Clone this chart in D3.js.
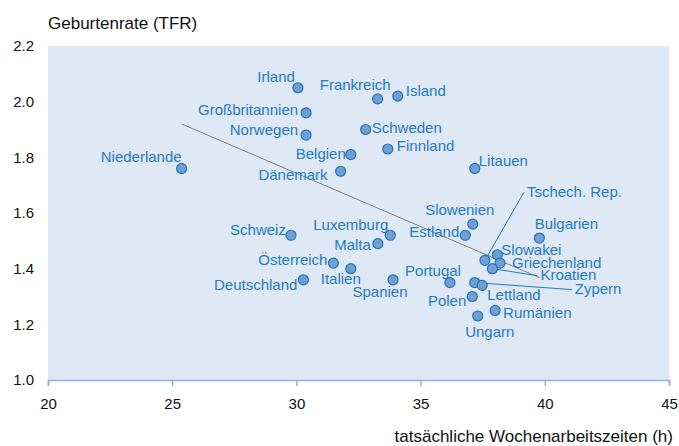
<!DOCTYPE html>
<html>
<head>
<meta charset="utf-8">
<script src="https://cdn.jsdelivr.net/npm/d3@7"></script>
<style>
  body { margin: 0; background: #fff; }
  svg { font-family: 'Liberation Sans', Arial, sans-serif; }
</style>
</head>
<body>
<div id="plot"></div>
<script>
// data
const countries = ['Irland', 'Frankreich', 'Island', 'Großbritannien', 'Norwegen', 'Schweden',
  'Finnland', 'Belgien', 'Dänemark', 'Niederlande', 'Litauen', 'Slowenien', 'Estland',
  'Bulgarien', 'Schweiz', 'Luxemburg', 'Malta', 'Österreich', 'Italien', 'Deutschland',
  'Spanien', 'Portugal', 'Slowakei', 'Tschech. Rep.', 'Griechenland', 'Kroatien', 'Zypern',
  'Lettland', 'Polen', 'Rumänien', 'Ungarn'];
const hours = [30.06, 33.27, 34.08, 30.39, 30.39, 32.79, 33.68, 32.19, 31.78, 25.38, 37.18,
  37.10, 36.80, 39.78, 29.78, 33.78, 33.28, 31.49, 32.19, 30.28, 33.89, 36.18, 38.09, 37.59,
  38.20, 37.89, 37.18, 37.48, 37.08, 38.00, 37.30];
const tfr = [2.05, 2.01, 2.02, 1.96, 1.88, 1.90, 1.83, 1.81, 1.75, 1.76, 1.76, 1.56, 1.52,
  1.51, 1.52, 1.52, 1.49, 1.42, 1.40, 1.36, 1.36, 1.35, 1.45, 1.43, 1.42, 1.40, 1.35, 1.34,
  1.30, 1.25, 1.23];
const trendX = [25.38, 39.81];
const trendY = [1.92, 1.367];
const xTicks = [20, 25, 30, 35, 40, 45];
const yTicks = [1.0, 1.2, 1.4, 1.6, 1.8, 2.0, 2.2];

// label placement: [dx, dy, anchor, leader]
const labelPos = {
  'Irland': [-3, -11, 'end'],
  'Frankreich': [13, -14, 'end'],
  'Island': [8, -5, 'start'],
  'Großbritannien': [-8, -3, 'end'],
  'Norwegen': [-8, -5, 'end'],
  'Schweden': [6, -2, 'start'],
  'Finnland': [9, -3, 'start'],
  'Belgien': [-5, -1, 'end'],
  'Dänemark': [-13, 3, 'end'],
  'Niederlande': [0, -12, 'end'],
  'Litauen': [4, -8, 'start'],
  'Slowenien': [-13, -14, 'middle'],
  'Estland': [-6, -4, 'end'],
  'Bulgarien': [27, -14, 'middle'],
  'Schweiz': [-5, -6, 'end'],
  'Luxemburg': [-2, -11, 'end'],
  'Malta': [-7, 1, 'end'],
  'Österreich': [-6, -3, 'end'],
  'Italien': [-10, 10, 'middle'],
  'Deutschland': [-6, 5, 'end'],
  'Spanien': [-13, 12, 'middle'],
  'Portugal': [11, -12, 'end'],
  'Slowakei': [4, -5, 'start'],
  'Tschech. Rep.': [42, -69, 'start', true],
  'Griechenland': [12, 0, 'start'],
  'Kroatien': [48, 6, 'start', true],
  'Zypern': [100, 6, 'start', true],
  'Lettland': [5, 9, 'start'],
  'Polen': [-6, 4, 'end'],
  'Rumänien': [8, 2, 'start'],
  'Ungarn': [12, 16, 'middle'],
};

const blue = '#1f7bc4';
const margin = { top: 46, right: 10, bottom: 66, left: 48 };
const width = 621;
const height = 334;

const svg = d3.select('#plot')
  .append('svg')
  .attr('width', 679)
  .attr('height', 446)
  .append('g')
  .attr('transform', `translate(${margin.left},${margin.top})`);

const x = d3.scaleLinear().domain([20, 45]).range([0, width]);
const y = d3.scaleLinear().domain([1.0, 2.2]).range([height, 0]);

// plot background
svg.append('rect')
  .attr('width', width)
  .attr('height', height)
  .attr('fill', '#dfe8f5');

// x axis
const xAxis = svg.append('g')
  .attr('transform', `translate(0,${height})`)
  .call(d3.axisBottom(x).tickValues(xTicks).tickSize(6).tickPadding(12).tickFormat(d3.format('d')));
xAxis.select('.domain').attr('stroke', '#8db3e2').attr('stroke-width', 1.5);
xAxis.selectAll('.tick line').attr('stroke', '#8db3e2').attr('stroke-width', 1.5);
xAxis.selectAll('text')
  .attr('fill', '#111')
  .style('font-size', '15px')
  .style('font-family', "'Liberation Sans', Arial, sans-serif");

// y axis (labels only)
const yAxis = svg.append('g')
  .call(d3.axisLeft(y).tickValues(yTicks).tickSize(0).tickPadding(14).tickFormat(d3.format('.1f')));
yAxis.select('.domain').remove();
yAxis.selectAll('text')
  .attr('fill', '#111')
  .style('font-size', '15px')
  .style('font-family', "'Liberation Sans', Arial, sans-serif");

// axis titles
svg.append('text')
  .attr('x', 0)
  .attr('y', -17)
  .attr('fill', '#111')
  .style('font-size', '17px')
  .text('Geburtenrate (TFR)');

svg.append('text')
  .attr('x', 625)
  .attr('y', 396)
  .attr('text-anchor', 'end')
  .attr('fill', '#111')
  .style('font-size', '17px')
  .text('tatsächliche Wochenarbeitszeiten (h)');

// trend line
svg.append('line')
  .attr('x1', x(trendX[0]))
  .attr('y1', y(trendY[0]))
  .attr('x2', x(trendX[1]))
  .attr('y2', y(trendY[1]))
  .attr('stroke', '#7f7f7f')
  .attr('stroke-width', 1);

const points = countries.map((c, i) => ({ name: c, h: hours[i], t: tfr[i] }));

// leader lines
points.filter((d) => labelPos[d.name][3]).forEach((d) => {
  const [dx, dy] = labelPos[d.name];
  svg.append('line')
    .attr('x1', x(d.h))
    .attr('y1', y(d.t))
    .attr('x2', x(d.h) + dx - 3)
    .attr('y2', y(d.t) + dy + 1)
    .attr('stroke', blue)
    .attr('stroke-width', 1);
});

// markers
svg.selectAll('.dot')
  .data(points)
  .enter()
  .append('circle')
  .attr('class', 'dot')
  .attr('cx', (d) => x(d.h))
  .attr('cy', (d) => y(d.t))
  .attr('r', 5)
  .attr('fill', '#6fa0d3')
  .attr('stroke', '#2472bb')
  .attr('stroke-width', 1.2);

// labels
svg.selectAll('.label')
  .data(points)
  .enter()
  .append('text')
  .attr('class', 'label')
  .attr('x', (d) => x(d.h) + labelPos[d.name][0])
  .attr('y', (d) => y(d.t) + labelPos[d.name][1])
  .attr('dy', '0.35em')
  .attr('text-anchor', (d) => labelPos[d.name][2])
  .attr('fill', blue)
  .style('font-size', '15px')
  .text((d) => d.name);
</script>
</body>
</html>
